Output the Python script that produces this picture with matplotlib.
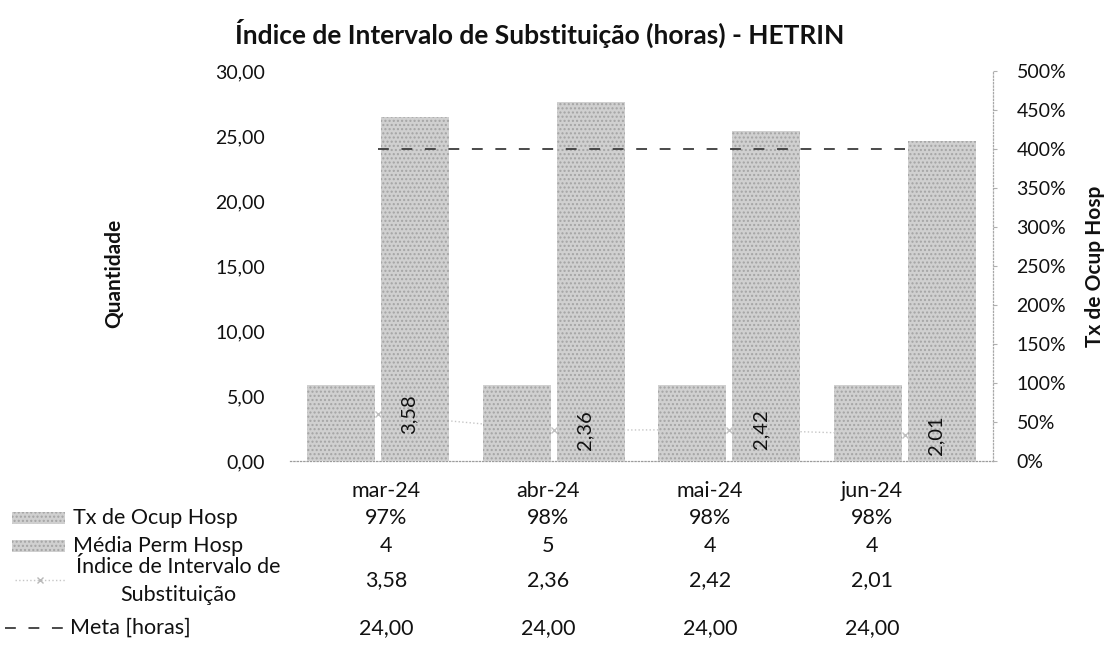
import numpy as np
import matplotlib
matplotlib.use('Agg')
import matplotlib.pyplot as plt
from matplotlib.ticker import FuncFormatter, PercentFormatter, MultipleLocator
from matplotlib.patches import Rectangle
from matplotlib.lines import Line2D

# ---- data ----
months = ['mar-24', 'abr-24', 'mai-24', 'jun-24']
tx_ocup = [0.97, 0.98, 0.98, 0.98]          # secondary axis (fraction)
media_perm = [4.41, 4.60, 4.23, 4.10]        # secondary axis
indice = [3.58, 2.36, 2.42, 2.01]            # primary axis
meta = [24.0, 24.0, 24.0, 24.0]              # primary axis
series_names = ['Tx de Ocup Hosp', 'Média Perm Hosp',
                'Índice de Intervalo de\nSubstituição', 'Meta [horas]']
title = 'Índice de Intervalo de Substituição (horas) - HETRIN'

plt.rcParams['font.family'] = ['Lato', 'DejaVu Sans']
TXT = '#111111'
BAR_FC = '#d0d0d0'
BAR_HC = '#a4a4a4'
TFS = 15.5   # table font size

W, H = 1110, 666
fig = plt.figure(figsize=(W / 100, H / 100), dpi=100)


def box(l, t, r, b):
    return [l / W, 1 - b / H, (r - l) / W, (b - t) / H]


def comma(v, d=2):
    return f'{v:.{d}f}'.replace('.', ',')


ax1 = fig.add_axes(box(290, 71, 993, 461))
ax2 = ax1.twinx()
ax3 = ax1.twinx()

x = np.arange(len(months))
ax1.set_xlim(-0.5, len(months) - 0.5)
ax1.set_ylim(0, 30)
ax2.set_ylim(0, 5)
ax3.set_ylim(0, 30)

# index line (behind bars)
ax1.plot(x, indice, ls=':', color='#c6c6c6', lw=1.0, marker='x', ms=5,
         mec='#c0c0c0', zorder=2)

# bars on secondary axis
bw, off = 0.387, 0.21
ax2.bar(x - off, tx_ocup, bw, color=BAR_FC, edgecolor=BAR_HC, hatch='....', lw=0)
ax2.bar(x + off, media_perm, bw, color=BAR_FC, edgecolor=BAR_HC, hatch='....', lw=0)

# meta line on top
ax3.plot(x, meta, color='#3c3c3c', lw=1.3, dashes=(6, 7))
for xi, yi in zip(x, indice):
    ax3.annotate(comma(yi), xy=(xi, yi), xytext=(31, 0), textcoords='offset pixels',
                 rotation=90, ha='center', va='center', fontsize=14.5, color=TXT)
ax3.axis('off')

# primary axis styling
for s in ['top', 'left', 'right']:
    ax1.spines[s].set_visible(False)
ax1.spines['bottom'].set_color('#9c9c9c')
ax1.spines['bottom'].set_linestyle(':')
ax1.spines['bottom'].set_linewidth(0.9)
ax1.yaxis.set_major_locator(MultipleLocator(5))
ax1.yaxis.set_major_formatter(FuncFormatter(lambda v, p: comma(v)))
ax1.tick_params(axis='y', length=0, labelsize=14, pad=18, labelcolor=TXT)
ax1.set_xticks([])
ax1.set_ylabel('Quantidade', fontsize=15, fontweight='bold', color=TXT)
ax1.yaxis.set_label_coords(-0.236, 0.48)

# secondary axis styling
for s in ['top', 'left', 'bottom']:
    ax2.spines[s].set_visible(False)
ax2.spines['right'].set_color('#a8a8a8')
ax2.spines['right'].set_linestyle(':')
ax2.spines['right'].set_linewidth(0.9)
ax2.yaxis.set_major_locator(MultipleLocator(0.5))
ax2.yaxis.set_major_formatter(PercentFormatter(1.0, decimals=0))
ax2.tick_params(axis='y', length=3, color='#b0b0b0', labelsize=14, pad=14, labelcolor=TXT)
ax2.set_ylabel('Tx de Ocup Hosp', fontsize=15, fontweight='bold', color=TXT, rotation=90)
ax2.yaxis.set_label_coords(1.131, 0.5)

fig.text(540 / W, 1 - 33 / H, title, ha='center', va='center', fontsize=19,
         fontweight='bold', color=TXT)

# ---- data table ----
tab = fig.add_axes([0, 0, 1, 1], zorder=-1)
tab.set_xlim(0, W)
tab.set_ylim(H, 0)
tab.axis('off')
col0, colstep = 386, 162
row_y = [518, 546, 580, 628]
tab_rows = [
    [f'{v * 100:.0f}%' for v in tx_ocup],
    [f'{v:.0f}' for v in media_perm],
    [comma(v) for v in indice],
    [comma(v) for v in meta],
]
for i, m in enumerate(months):
    tab.text(col0 + colstep * i, 491, m, ha='center', va='center', fontsize=TFS, color=TXT)
for r, vals in enumerate(tab_rows):
    for i, v in enumerate(vals):
        tab.text(col0 + colstep * i, row_y[r], v, ha='center', va='center',
                 fontsize=TFS, color=TXT)

# legend keys + names
for r in range(2):
    tab.add_patch(Rectangle((12, row_y[r] - 6), 53, 12, facecolor=BAR_FC,
                            edgecolor=BAR_HC, hatch='....', lw=0))
    tab.text(73, row_y[r], series_names[r], ha='left', va='center', fontsize=TFS, color=TXT)
tab.add_line(Line2D([15, 65], [row_y[2], row_y[2]], ls=':', color='#c6c6c6', lw=1.0))
tab.add_line(Line2D([40], [row_y[2]], marker='x', ms=5, mec='#b8b8b8', ls='none'))
tab.text(178, row_y[2] + 1, series_names[2], ha='center', va='center', fontsize=TFS,
         color=TXT, linespacing=1.45, multialignment='center')
tab.add_line(Line2D([5, 66], [row_y[3], row_y[3]], color='#3c3c3c', lw=1.3, dashes=(6, 7)))
tab.text(70, row_y[3], series_names[3], ha='left', va='center', fontsize=TFS, color=TXT)

fig.savefig('out.png', dpi=100)
